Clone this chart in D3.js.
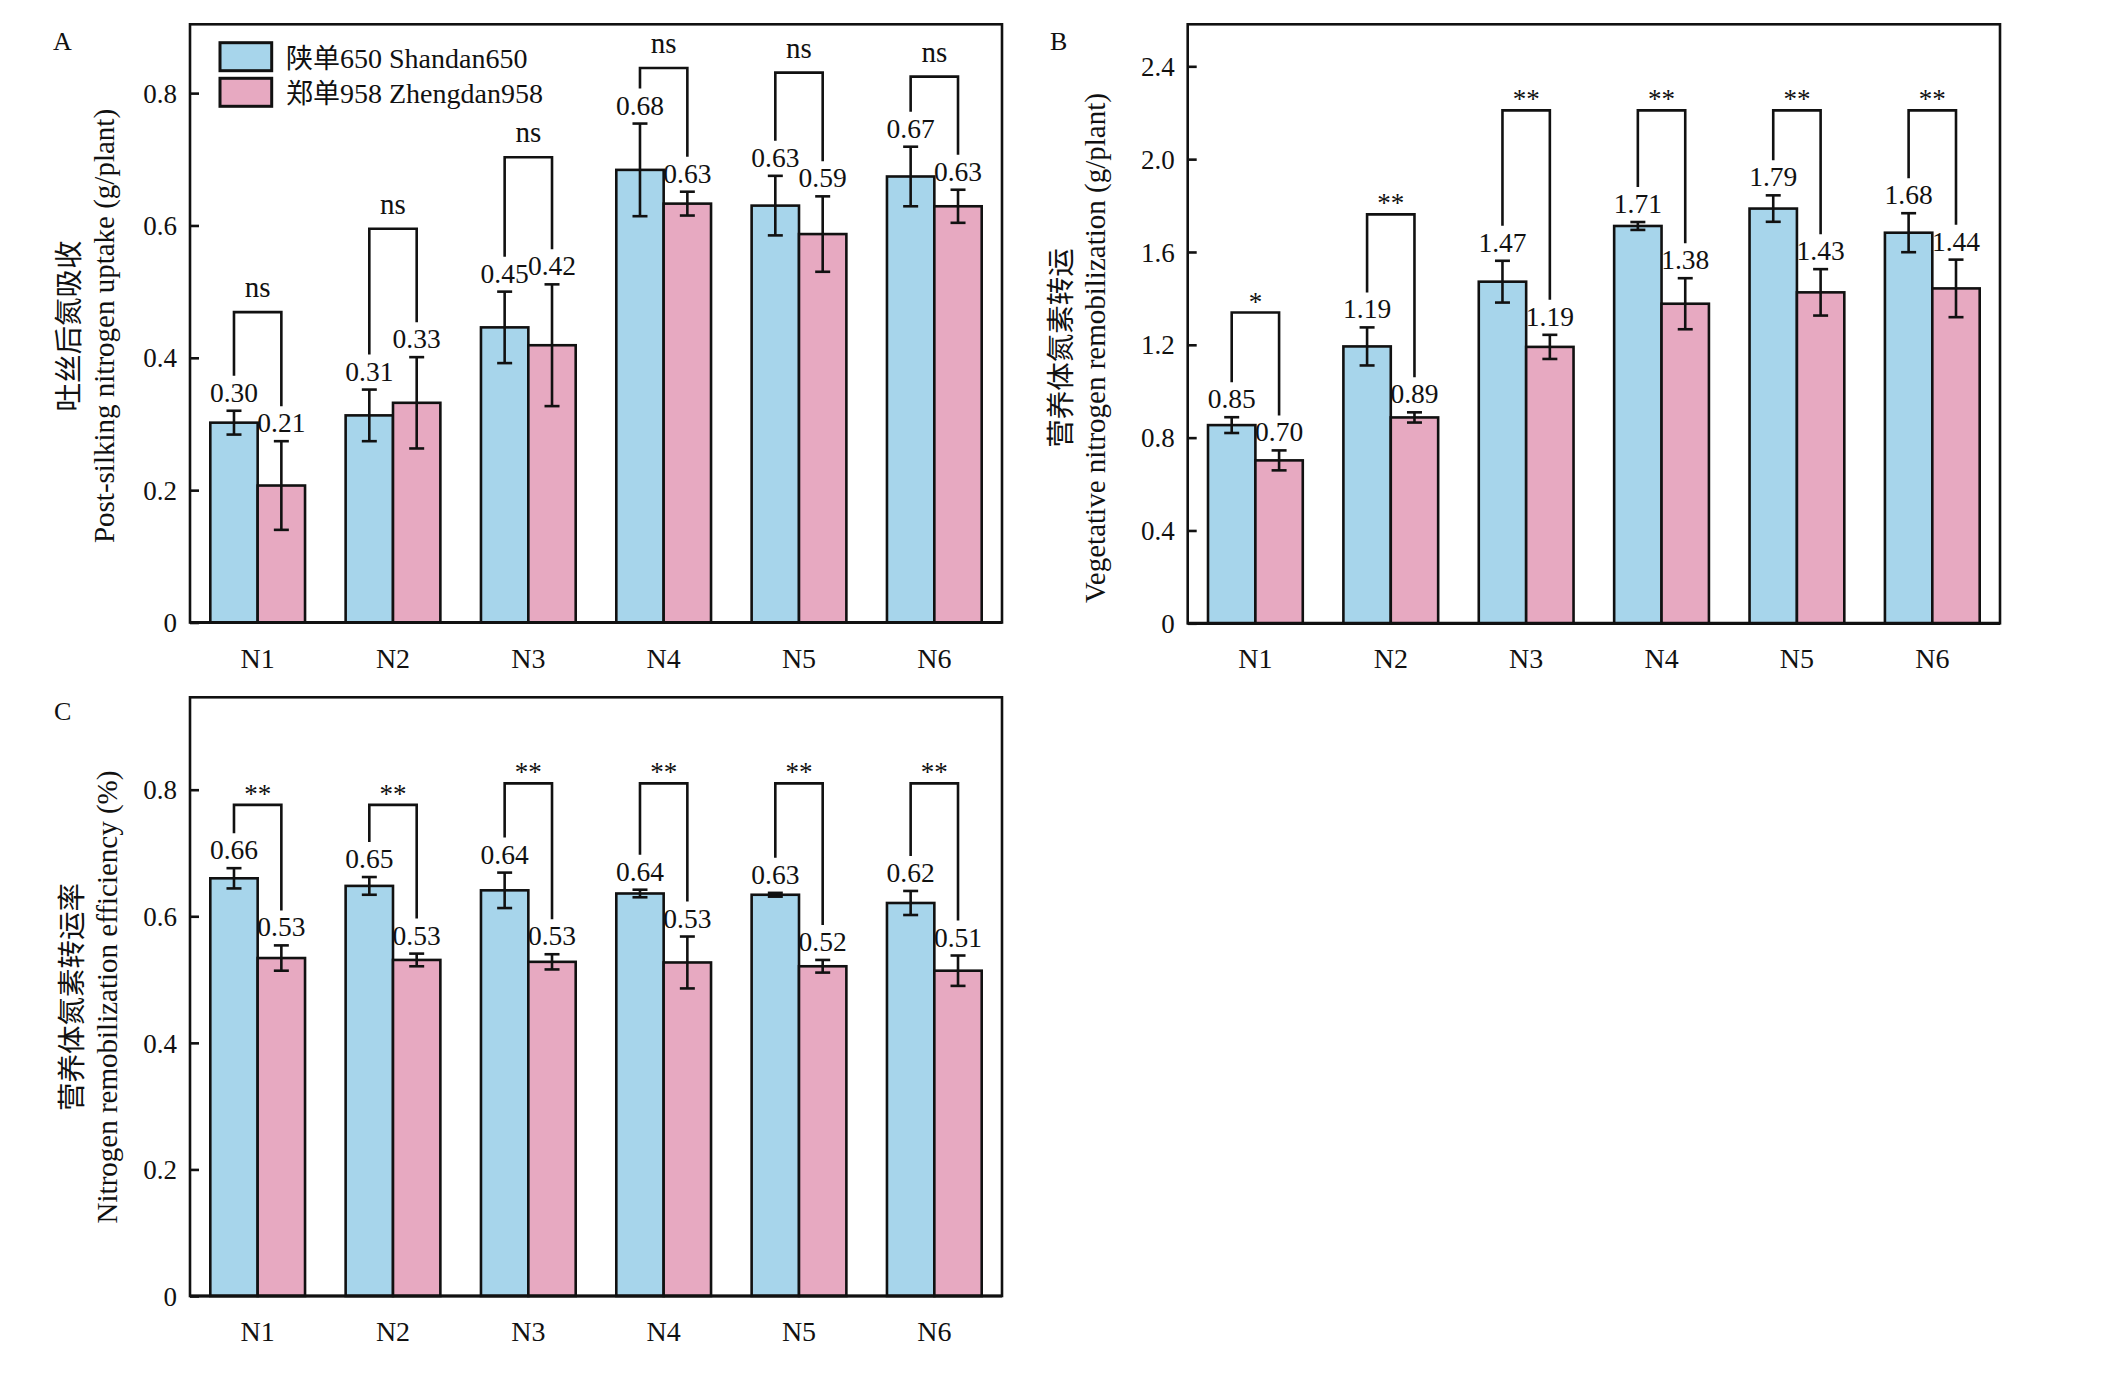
<!DOCTYPE html>
<html>
<head>
<meta charset="utf-8">
<script src="https://cdn.jsdelivr.net/npm/d3@7"></script>
<style>
  body { margin: 0; background: #fff; }
  text { font-family: "Liberation Serif", serif; fill: #111; }
  .cjk { font-family: "Noto Sans CJK SC", sans-serif; }
</style>
</head>
<body>
<div id="chart"></div>
<script>
// values: mean and error for each cultivar
const groups = ["N1", "N2", "N3", "N4", "N5", "N6"];
const cultivarsZh = ["陕单", "郑单"];
const cultivarsEn = ["650 Shandan650", "958 Zhengdan958"];
const colors = ["#a7d5eb", "#e7a9c1"];

// A: post-silking nitrogen uptake (g/plant)
const uptakeSD = [0.302, 0.313, 0.446, 0.684, 0.630, 0.674];
const uptakeSDErr = [0.018, 0.039, 0.054, 0.070, 0.045, 0.045];
const uptakeZD = [0.207, 0.332, 0.419, 0.633, 0.587, 0.629];
const uptakeZDErr = [0.067, 0.069, 0.092, 0.018, 0.057, 0.025];
const uptakeSig = ["ns", "ns", "ns", "ns", "ns", "ns"];
const uptakeSigLevel = [0.469, 0.595, 0.703, 0.838, 0.831, 0.825];
const uptakeTicks = [0, 0.2, 0.4, 0.6, 0.8];

// B: vegetative nitrogen remobilization (g/plant)
const remobSD = [0.854, 1.193, 1.472, 1.712, 1.787, 1.683];
const remobSDErr = [0.034, 0.082, 0.090, 0.017, 0.057, 0.084];
const remobZD = [0.702, 0.887, 1.191, 1.377, 1.426, 1.443];
const remobZDErr = [0.043, 0.022, 0.052, 0.110, 0.100, 0.124];
const remobSig = ["*", "**", "**", "**", "**", "**"];
const remobSigLevel = [1.339, 1.762, 2.21, 2.21, 2.21, 2.21];
const remobTicks = [0, 0.4, 0.8, 1.2, 1.6, 2.0, 2.4];

// C: nitrogen remobilization efficiency
const effSD = [0.660, 0.648, 0.641, 0.636, 0.634, 0.621];
const effSDErr = [0.016, 0.014, 0.028, 0.006, 0.003, 0.019];
const effZD = [0.534, 0.531, 0.528, 0.527, 0.521, 0.514];
const effZDErr = [0.020, 0.010, 0.012, 0.041, 0.010, 0.024];
const effSig = ["**", "**", "**", "**", "**", "**"];
const effSigLevel = [0.776, 0.776, 0.810, 0.810, 0.810, 0.810];
const effTicks = [0, 0.2, 0.4, 0.6, 0.8];

const W = 2124, H = 1378;
const svg = d3.select("#chart").append("svg")
  .attr("width", W).attr("height", H);

const fmtTick = d => d === 0 ? "0" : d3.format(".1f")(d);
const fmtVal = d3.format(".2f");

function drawPanel(p) {
  const g = svg.append("g");

  const x0 = d3.scaleBand().domain(groups)
    .range([p.left, p.right]).paddingInner(0.3).paddingOuter(0.15);
  const x1 = d3.scaleBand().domain([0, 1]).range([0, x0.bandwidth()]);
  const y = d3.scaleLinear().domain([0, p.yMax]).range([p.bottom, p.top]);

  const rows = groups.map((grp, i) => ({
    grp,
    bars: [
      { k: 0, v: p.a[i], e: p.aErr[i] },
      { k: 1, v: p.b[i], e: p.bErr[i] }
    ],
    sig: p.sig[i],
    level: p.sigLevel[i]
  }));

  // bars
  const grpG = g.selectAll("g.grp").data(rows).join("g")
    .attr("class", "grp")
    .attr("transform", d => `translate(${x0(d.grp)},0)`);

  grpG.selectAll("rect").data(d => d.bars).join("rect")
    .attr("x", d => x1(d.k))
    .attr("y", d => y(d.v))
    .attr("width", x1.bandwidth())
    .attr("height", d => y(0) - y(d.v))
    .attr("fill", d => colors[d.k])
    .attr("stroke", "#111")
    .attr("stroke-width", 2.6);

  // error bars
  const cx = d => x1(d.k) + x1.bandwidth() / 2;
  const eb = grpG.selectAll("g.err").data(d => d.bars).join("g").attr("class", "err")
    .attr("stroke", "#111").attr("stroke-width", 2.6);
  eb.append("line")
    .attr("x1", cx).attr("x2", cx)
    .attr("y1", d => y(d.v - d.e)).attr("y2", d => y(d.v + d.e));
  eb.append("line")
    .attr("x1", d => cx(d) - 7.5).attr("x2", d => cx(d) + 7.5)
    .attr("y1", d => y(d.v + d.e)).attr("y2", d => y(d.v + d.e));
  eb.append("line")
    .attr("x1", d => cx(d) - 7.5).attr("x2", d => cx(d) + 7.5)
    .attr("y1", d => y(d.v - d.e)).attr("y2", d => y(d.v - d.e));

  // value labels
  const labelBase = d => y(d.v + d.e) - 9;
  grpG.selectAll("text.val").data(d => d.bars).join("text")
    .attr("class", "val")
    .attr("x", cx)
    .attr("y", labelBase)
    .attr("text-anchor", "middle")
    .attr("font-size", 27.5)
    .text(d => fmtVal(d.v));

  // significance brackets
  grpG.append("path")
    .attr("fill", "none")
    .attr("stroke", "#111")
    .attr("stroke-width", 2.6)
    .attr("d", d => {
      const [l, r] = d.bars;
      return `M${cx(l)},${labelBase(l) - 26}V${y(d.level)}H${cx(r)}V${labelBase(r) - 26}`;
    });
  grpG.append("text")
    .attr("x", x0.bandwidth() / 2)
    .attr("y", d => y(d.level) - (d.sig === "ns" ? 15 : 2))
    .attr("text-anchor", "middle")
    .attr("font-size", d => d.sig === "ns" ? 29 : 27)
    .text(d => d.sig);

  // frame
  g.append("rect")
    .attr("x", p.left).attr("y", p.top)
    .attr("width", p.right - p.left).attr("height", p.bottom - p.top)
    .attr("fill", "none").attr("stroke", "#111").attr("stroke-width", 2.6);
  g.append("line")
    .attr("x1", p.left).attr("x2", p.right)
    .attr("y1", p.bottom).attr("y2", p.bottom)
    .attr("stroke", "#111").attr("stroke-width", 3.2);

  // y axis ticks (inward)
  const yAx = g.append("g").attr("transform", `translate(${p.left},0)`)
    .call(d3.axisLeft(y).tickValues(p.ticks).tickFormat(fmtTick).tickSizeInner(-9).tickSizeOuter(0).tickPadding(13));
  yAx.select(".domain").remove();
  yAx.attr("font-family", null);
  yAx.selectAll(".tick line").attr("stroke", "#111").attr("stroke-width", 2.6);
  yAx.selectAll(".tick text")
    .attr("font-size", 27).attr("fill", "#111")
    .attr("dy", "0.34em");

  // x labels
  const xAx = g.append("g").attr("transform", `translate(0,${p.bottom})`)
    .call(d3.axisBottom(x0).tickSize(0).tickPadding(0));
  xAx.select(".domain").remove();
  xAx.attr("font-family", null);
  xAx.selectAll(".tick text")
    .attr("font-size", 28).attr("fill", "#111")
    .attr("dy", null).attr("y", 45);

  // y titles (two lines)
  const cy = p.titleY;
  g.append("text")
    .attr("class", "cjk")
    .attr("transform", `translate(${p.titleX[0]},${cy}) rotate(-90)`)
    .attr("text-anchor", "middle").attr("font-size", 28.5)
    .text(p.title[0]);
  g.append("text")
    .attr("transform", `translate(${p.titleX[1]},${cy}) rotate(-90)`)
    .attr("text-anchor", "middle").attr("font-size", 29)
    .text(p.title[1]);

  // panel letter
  g.append("text")
    .attr("x", p.letterX).attr("y", p.letterY)
    .attr("font-size", 26)
    .text(p.letter);
}

drawPanel({
  left: 190, right: 1002, top: 24.3, bottom: 622.5, yMax: 0.904,
  a: uptakeSD, aErr: uptakeSDErr, b: uptakeZD, bErr: uptakeZDErr,
  sig: uptakeSig, sigLevel: uptakeSigLevel, ticks: uptakeTicks,
  title: ["吐丝后氮吸收", "Post-silking nitrogen uptake (g/plant)"],
  titleX: [79, 114], titleY: 326,
  letter: "A", letterX: 53, letterY: 50
});

drawPanel({
  left: 1187.7, right: 2000, top: 24.3, bottom: 623.3, yMax: 2.581,
  a: remobSD, aErr: remobSDErr, b: remobZD, bErr: remobZDErr,
  sig: remobSig, sigLevel: remobSigLevel, ticks: remobTicks,
  title: ["营养体氮素转运", "Vegetative nitrogen remobilization (g/plant)"],
  titleX: [1071, 1105], titleY: 348,
  letter: "B", letterX: 1050, letterY: 50
});

drawPanel({
  left: 190, right: 1002, top: 697.3, bottom: 1296, yMax: 0.946,
  a: effSD, aErr: effSDErr, b: effZD, bErr: effZDErr,
  sig: effSig, sigLevel: effSigLevel, ticks: effTicks,
  title: ["营养体氮素转运率", "Nitrogen remobilization efficiency (%)"],
  titleX: [82, 117], titleY: 997,
  letter: "C", letterX: 54, letterY: 720
});

// legend in panel A: Chinese and Latin parts as separate text elements
const leg = svg.append("g").selectAll("g").data(cultivarsEn).join("g")
  .attr("transform", (d, i) => `translate(220,${42.7 + i * 35.6})`);
leg.append("rect")
  .attr("width", 51.7).attr("height", 28)
  .attr("fill", (d, i) => colors[i])
  .attr("stroke", "#111").attr("stroke-width", 3);
leg.each(function(d, i) {
  const row = d3.select(this);
  const zh = row.append("text")
    .attr("class", "cjk")
    .attr("x", 66).attr("y", 25)
    .attr("font-size", 27)
    .text(cultivarsZh[i]);
  const w = zh.node().getComputedTextLength();
  row.append("text")
    .attr("x", 66 + w).attr("y", 25)
    .attr("font-size", 28)
    .text(d);
});
</script>
</body>
</html>
